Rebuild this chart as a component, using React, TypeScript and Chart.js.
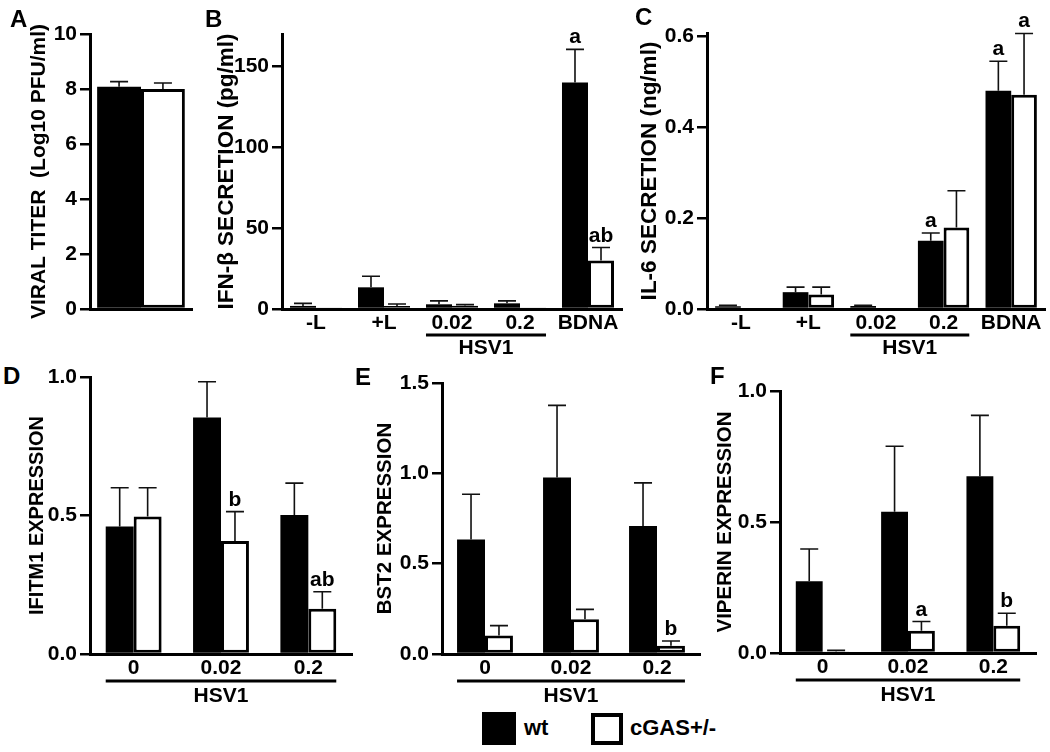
import React, { useEffect, useRef } from 'react';
import { Chart, registerables } from 'chart.js';

Chart.register(...registerables);

const FONT = "'Liberation Sans', Arial, Helvetica, sans-serif";

// ---------- Panel A: viral titer ----------
const catA = [''];
const wtA = [8.08];
const wtSemA = [0.19];
const cgasA = [8.0];
const cgasSemA = [0.22];
const ticksA = [0, 2, 4, 6, 8, 10];

// ---------- Panel B: IFN-beta ----------
const catB = ['-L', '+L', '0.02', '0.2', 'BDNA'];
const wtB = [1.9, 13.4, 2.9, 3.5, 140];
const wtSemB = [1.6, 6.8, 2.1, 1.5, 20.5];
const cgasB = [0.3, 1.9, 2.0, 1.0, 30];
const cgasSemB = [0, 1.2, 0.7, 0, 8];
const sigWtB = ['', '', '', '', 'a'];
const sigCgasB = ['', '', '', '', 'ab'];
const ticksB = [0, 50, 100, 150];

// ---------- Panel C: IL-6 ----------
const catC = ['-L', '+L', '0.02', '0.2', 'BDNA'];
const wtC = [0.006, 0.037, 0.0066, 0.15, 0.48];
const wtSemC = [0.002, 0.011, 0.0014, 0.017, 0.065];
const cgasC = [0.003, 0.032, 0.003, 0.179, 0.471];
const cgasSemC = [0, 0.016, 0, 0.081, 0.135];
const sigWtC = ['', '', '', 'a', 'a'];
const sigCgasC = ['', '', '', '', 'a'];
const ticksC = [0, 0.2, 0.4, 0.6];

// ---------- Panel D: IFITM1 ----------
const catD = ['0', '0.02', '0.2'];
const wtD = [0.46, 0.854, 0.502];
const wtSemD = [0.14, 0.129, 0.115];
const cgasD = [0.496, 0.408, 0.163];
const cgasSemD = [0.104, 0.106, 0.062];
const sigCgasD = ['', 'b', 'ab'];
const ticksD = [0, 0.5, 1.0];

// ---------- Panel E: BST2 ----------
const catE = ['0', '0.02', '0.2'];
const wtE = [0.634, 0.977, 0.708];
const wtSemE = [0.25, 0.399, 0.239];
const cgasE = [0.103, 0.193, 0.046];
const cgasSemE = [0.054, 0.054, 0.026];
const sigCgasE = ['', '', 'b'];
const ticksE = [0, 0.5, 1.0, 1.5];

// ---------- Panel F: VIPERIN ----------
const catF = ['0', '0.02', '0.2'];
const wtF = [0.274, 0.539, 0.675];
const wtSemF = [0.123, 0.25, 0.232];
const cgasF = [0.006, 0.085, 0.104];
const cgasSemF = [0.004, 0.035, 0.048];
const sigCgasF = ['', 'a', 'b'];
const ticksF = [0, 0.5, 1.0];

const seriesNames = ['wt', 'cGAS+/-'];

const errorPlugin = {
  id: 'errbars',
  afterDraw(chart: any) {
    const ctx = chart.ctx;
    const y = chart.scales.y;
    ctx.save();
    chart.data.datasets.forEach((ds: any, di: number) => {
      const meta = chart.getDatasetMeta(di);
      meta.data.forEach((bar: any, i: number) => {
        const v = ds.data[i];
        const sem = ds.sem ? ds.sem[i] : 0;
        const top = y.getPixelForValue(v + sem);
        const base = y.getPixelForValue(v);
        if (sem > 0) {
          ctx.strokeStyle = '#111';
          ctx.lineWidth = 1.6;
          ctx.beginPath();
          ctx.moveTo(bar.x, base);
          ctx.lineTo(bar.x, top);
          ctx.moveTo(bar.x - 9, top);
          ctx.lineTo(bar.x + 9, top);
          ctx.stroke();
        }
        const s = ds.sig ? ds.sig[i] : '';
        if (s) {
          ctx.fillStyle = '#000';
          ctx.font = `bold 21px ${FONT}`;
          ctx.textAlign = 'center';
          ctx.textBaseline = 'alphabetic';
          ctx.fillText(s, bar.x, top - 6);
        }
      });
    });
    ctx.restore();
  },
};

const hsvPlugin = {
  id: 'hsv',
  afterDraw(chart: any, _args: any, opts: any) {
    if (!opts || !opts.range) return;
    const [a, b] = opts.range;
    const m0 = chart.getDatasetMeta(0).data[a];
    const m1 = chart.getDatasetMeta(1).data[b];
    const x0 = m0.x - m0.width / 2;
    const x1 = m1.x + m1.width / 2;
    const ctx = chart.ctx;
    const bottom = chart.chartArea.bottom;
    ctx.save();
    ctx.strokeStyle = '#000';
    ctx.lineWidth = 3;
    ctx.beginPath();
    ctx.moveTo(x0, bottom + opts.lineOff);
    ctx.lineTo(x1, bottom + opts.lineOff);
    ctx.stroke();
    ctx.fillStyle = '#000';
    ctx.font = `bold 21px ${FONT}`;
    ctx.textAlign = 'center';
    ctx.textBaseline = 'middle';
    ctx.fillText(opts.label, (x0 + x1) / 2, bottom + opts.textOff);
    ctx.restore();
  },
};

type PanelProps = {
  labels: string[];
  wt: number[];
  wtSem: number[];
  cg: number[];
  cgSem: number[];
  sigWt?: string[];
  sigCg?: string[];
  ticks: number[];
  decimals: number;
  max: number;
  title: string;
  titleSize: number;
  hsv?: number[] | null;
  canvas: { left: number; top: number; width: number; height: number };
  area: { left: number; top: number; right: number; bottom: number };
  catPct: number;
  lineOff: number;
  textOff: number;
};

function BarPanel(p: PanelProps) {
  const ref = useRef<HTMLCanvasElement | null>(null);
  useEffect(() => {
    if (!ref.current) return;
    const c = p.canvas;
    const a = p.area;
    const tickFont = { family: FONT, size: 21, weight: 'bold' as const };
    const chart = new Chart(ref.current, {
      type: 'bar',
      data: {
        labels: p.labels,
        datasets: [
          {
            label: seriesNames[0],
            data: p.wt,
            backgroundColor: '#000',
            borderColor: '#000',
            borderWidth: 0,
            sem: p.wtSem,
            sig: p.sigWt || [],
          } as any,
          {
            label: seriesNames[1],
            data: p.cg,
            backgroundColor: '#fff',
            borderColor: '#000',
            borderWidth: 3,
            borderSkipped: false,
            sem: p.cgSem,
            sig: p.sigCg || [],
          } as any,
        ],
      },
      options: {
        animation: false,
        responsive: false,
        maintainAspectRatio: false,
        devicePixelRatio: 1,
        layout: {
          padding: {
            left: 0,
            top: a.top - c.top,
            right: c.left + c.width - a.right,
            bottom: 0,
          },
        },
        datasets: { bar: { categoryPercentage: p.catPct, barPercentage: 1 } },
        plugins: {
          legend: { display: false },
          tooltip: { enabled: false },
          hsv: p.hsv ? { range: p.hsv, label: 'HSV1', lineOff: p.lineOff, textOff: p.textOff } : {},
        } as any,
        scales: {
          x: {
            type: 'category',
            offset: true,
            grid: { display: false, drawTicks: false },
            border: { display: true, width: 3, color: '#000' },
            ticks: { color: '#000', font: tickFont, padding: 2, maxRotation: 0, autoSkip: false },
            afterFit: (s: any) => {
              s.height = c.top + c.height - a.bottom;
            },
          },
          y: {
            type: 'linear',
            min: 0,
            max: p.max,
            afterBuildTicks: (s: any) => {
              s.ticks = p.ticks.map((v) => ({ value: v }));
            },
            ticks: {
              color: '#000',
              font: tickFont,
              padding: 3,
              callback: (v: any) => Number(v).toFixed(p.decimals),
            },
            grid: {
              display: true,
              drawOnChartArea: false,
              drawTicks: true,
              tickLength: 10,
              tickWidth: 2.5,
              tickColor: '#000',
              color: '#000',
              lineWidth: 2.5,
            },
            border: { display: true, width: 3, color: '#000' },
            title: {
              display: true,
              text: p.title,
              color: '#000',
              font: { family: FONT, size: p.titleSize, weight: 'bold' },
              padding: 0,
            },
            afterFit: (s: any) => {
              s.width = a.left - c.left;
            },
          },
        },
      } as any,
      plugins: [errorPlugin, hsvPlugin],
    });
    return () => chart.destroy();
  }, []);
  const c = p.canvas;
  return (
    <canvas
      ref={ref}
      width={c.width}
      height={c.height}
      style={{ position: 'absolute', left: c.left, top: c.top, width: c.width, height: c.height }}
    />
  );
}

const letterStyle = (left: number, top: number): React.CSSProperties => ({
  position: 'absolute',
  left,
  top,
  font: `bold 24px ${FONT}`,
  lineHeight: '24px',
  color: '#000',
});

export default function App() {
  return (
    <div
      style={{
        position: 'absolute',
        left: 0,
        top: 0,
        width: 1050,
        height: 752,
        background: '#fff',
        overflow: 'hidden',
      }}
    >
      <BarPanel
        labels={catA}
        wt={wtA}
        wtSem={wtSemA}
        cg={cgasA}
        cgSem={cgasSemA}
        ticks={ticksA}
        decimals={0}
        max={10}
        title="VIRAL TITER  (Log10 PFU/ml)"
        titleSize={21}
        hsv={null}
        canvas={{ left: 27, top: 0, width: 173, height: 360 }}
        area={{ left: 90, top: 34, right: 192, bottom: 309 }}
        catPct={0.86}
        lineOff={26}
        textOff={38}
      />
      <BarPanel
        labels={catB}
        wt={wtB}
        wtSem={wtSemB}
        cg={cgasB}
        cgSem={cgasSemB}
        sigWt={sigWtB}
        sigCg={sigCgasB}
        ticks={ticksB}
        decimals={0}
        max={170}
        title="IFN-β SECRETION (pg/ml)"
        titleSize={22.5}
        hsv={[2, 3]}
        canvas={{ left: 213, top: 0, width: 417, height: 360 }}
        area={{ left: 282, top: 34, right: 622, bottom: 309 }}
        catPct={0.765}
        lineOff={26}
        textOff={39}
      />
      <BarPanel
        labels={catC}
        wt={wtC}
        wtSem={wtSemC}
        cg={cgasC}
        cgSem={cgasSemC}
        sigWt={sigWtC}
        sigCg={sigCgasC}
        ticks={ticksC}
        decimals={1}
        max={0.607}
        title="IL-6 SECRETION (ng/ml)"
        titleSize={22.5}
        hsv={[2, 3]}
        canvas={{ left: 636, top: 0, width: 414, height: 360 }}
        area={{ left: 707, top: 33, right: 1045, bottom: 309 }}
        catPct={0.76}
        lineOff={26}
        textOff={39}
      />
      <BarPanel
        labels={catD}
        wt={wtD}
        wtSem={wtSemD}
        cg={cgasD}
        cgSem={cgasSemD}
        sigCg={sigCgasD}
        ticks={ticksD}
        decimals={1}
        max={1.0}
        title="IFITM1 EXPRESSION"
        titleSize={20}
        hsv={[0, 2]}
        canvas={{ left: 25, top: 360, width: 335, height: 350 }}
        area={{ left: 90, top: 377, right: 352, bottom: 654 }}
        catPct={0.64}
        lineOff={27}
        textOff={42}
      />
      <BarPanel
        labels={catE}
        wt={wtE}
        wtSem={wtSemE}
        cg={cgasE}
        cgSem={cgasSemE}
        sigCg={sigCgasE}
        ticks={ticksE}
        decimals={1}
        max={1.5}
        title="BST2 EXPRESSION"
        titleSize={20.5}
        hsv={[0, 2]}
        canvas={{ left: 373, top: 360, width: 332, height: 350 }}
        area={{ left: 442, top: 383, right: 700, bottom: 654 }}
        catPct={0.65}
        lineOff={27}
        textOff={42}
      />
      <BarPanel
        labels={catF}
        wt={wtF}
        wtSem={wtSemF}
        cg={cgasF}
        cgSem={cgasSemF}
        sigCg={sigCgasF}
        ticks={ticksF}
        decimals={1}
        max={1.0}
        title="VIPERIN EXPRESSION"
        titleSize={20.5}
        hsv={[0, 2]}
        canvas={{ left: 713, top: 360, width: 332, height: 350 }}
        area={{ left: 780, top: 391, right: 1036, bottom: 653 }}
        catPct={0.63}
        lineOff={27}
        textOff={42}
      />

      <div style={letterStyle(10, 7)}>A</div>
      <div style={letterStyle(205, 7)}>B</div>
      <div style={letterStyle(635, 5)}>C</div>
      <div style={letterStyle(3, 364)}>D</div>
      <div style={letterStyle(355, 365)}>E</div>
      <div style={letterStyle(710, 364)}>F</div>

      <div style={{ position: 'absolute', left: 482, top: 712, width: 34, height: 33, background: '#000' }} />
      <div style={{ position: 'absolute', left: 524, top: 716, font: `bold 22px ${FONT}`, lineHeight: '24px', color: '#000' }}>
        {seriesNames[0]}
      </div>
      <div
        style={{
          position: 'absolute',
          left: 591,
          top: 713,
          width: 32,
          height: 32,
          boxSizing: 'border-box',
          border: '4px solid #000',
          background: '#fff',
        }}
      />
      <div style={{ position: 'absolute', left: 630, top: 716, font: `bold 22px ${FONT}`, lineHeight: '24px', color: '#000' }}>
        {seriesNames[1]}
      </div>
    </div>
  );
}
